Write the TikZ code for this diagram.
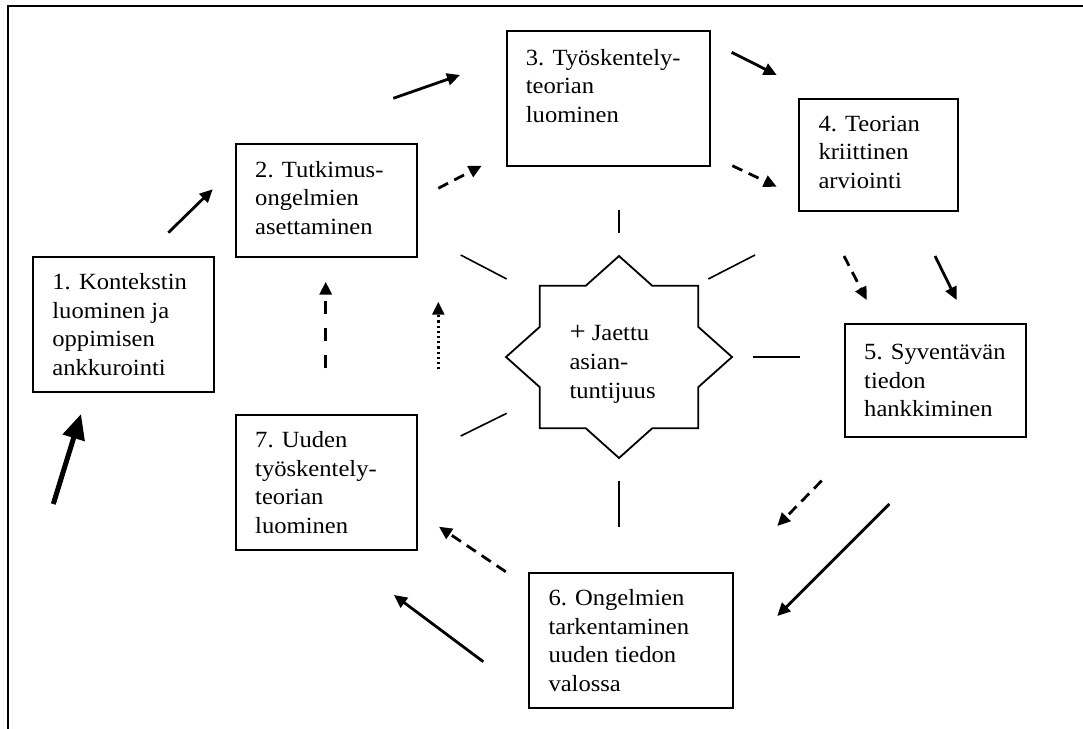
\documentclass[tikz,border=0pt]{standalone}
\usepackage{fontspec}
\setmainfont{Liberation Serif}[FakeStretch=1.06]
\usetikzlibrary{arrows.meta,calc}
\tikzset{
  box/.style={draw, line width=1.8pt, inner sep=0pt, anchor=north west},
  lbl/.style={anchor=north west, inner sep=0pt, align=left, font=\fontsize{23.2}{28.7}\selectfont},
  arr/.style={line width=2.8pt, -{Triangle[length=13pt,width=12pt]}},
  darr/.style={arr, dash pattern=on 11pt off 7pt},
  vdarr/.style={line width=3.2pt, dash pattern=on 13pt off 14pt, -{Triangle[length=13pt,width=12pt]}},
  dotarr/.style={line width=2.6pt, dash pattern=on 2.2pt off 3pt, -{Triangle[length=13pt,width=12pt]}},
  thickarr/.style={line width=5pt, -{Triangle[length=25pt,width=22pt]}},
  tick/.style={line width=1.6pt},
}
\begin{document}
\begin{tikzpicture}[x=1pt,y=-1pt]
\useasboundingbox (0,0) rectangle (1083,728);
% frame
\draw[line width=1.8pt] (8,760) -- (8,6) -- (1110,6);
% boxes
\node[box, minimum width=181pt, minimum height=135.3pt] (b1) at (31.7,255.7) {};
\node[box, minimum width=181pt, minimum height=112.4pt] (b2) at (235,143.3) {};
\node[box, minimum width=203.6pt, minimum height=135pt] (b3) at (505.7,30) {};
\node[box, minimum width=158.4pt, minimum height=112.3pt] (b4) at (798.3,97.7) {};
\node[box, minimum width=181.3pt, minimum height=112.7pt] (b5) at (844,323.3) {};
\node[box, minimum width=203.4pt, minimum height=135.6pt] (b6) at (528.3,571.7) {};
\node[box, minimum width=180.7pt, minimum height=135pt] (b7) at (235,414) {};
% texts
\node[lbl] (t1) at ([shift={(20.5,17.5)}]b1.north west) {1. Kontekstin\\luominen ja\\oppimisen\\ankkurointi};
\node[lbl] (t2) at ([shift={(20,17.5)}]b2.north west) {2. Tutkimus-\\ongelmien\\asettaminen};
\node[lbl] (t3) at ([shift={(20,19)}]b3.north west) {3. Työskentely-\\teorian\\luominen};
\node[lbl] (t4) at ([shift={(20,18)}]b4.north west) {4. Teorian\\kriittinen\\arviointi};
\node[lbl] (t5) at ([shift={(20,20.5)}]b5.north west) {5. Syventävän\\tiedon\\hankkiminen};
\node[lbl] (t6) at ([shift={(20,17.5)}]b6.north west) {6. Ongelmien\\tarkentaminen\\uuden tiedon\\valossa};
\node[lbl] (t7) at ([shift={(20,17)}]b7.north west) {7. Uuden\\työskentely-\\teorian\\luominen};
% star
\coordinate (sc) at (619,357);
\draw[line width=1.8pt, shift={(sc)}]
  (0,-101) -- (33.2,-71.3) -- (79.3,-71.3) -- (79.3,-30.1) -- (113,0)
  -- (79.3,30.1) -- (79.3,71.3) -- (33.2,71.3) -- (0,101)
  -- (-33.2,71.3) -- (-79.3,71.3) -- (-79.3,30.1) -- (-113,0)
  -- (-79.3,-30.1) -- (-79.3,-71.3) -- (-33.2,-71.3) -- cycle;
\node[lbl] (st) at (569.3,325.5) {{\fontsize{27}{28.7}\selectfont +} Jaettu\\asian-\\tuntijuus};
% ticks
\coordinate (k1a) at (619,210);   \coordinate (k1b) at (619,233.3);
\coordinate (k2a) at (460.7,255); \coordinate (k2b) at (506.7,279);
\coordinate (k3a) at (708.3,279); \coordinate (k3b) at (755,255);
\coordinate (k4a) at (460.7,436); \coordinate (k4b) at (506.7,413.3);
\coordinate (k5a) at (753.3,357); \coordinate (k5b) at (800,357);
\coordinate (k6a) at (619,481);   \coordinate (k6b) at (619,526.7);
\draw[tick] (k1a) -- (k1b);
\draw[tick] (k2a) -- (k2b);
\draw[tick] (k3a) -- (k3b);
\draw[tick] (k4a) -- (k4b);
\draw[tick] (k5a) -- (k5b);
\draw[tick] (k6a) -- (k6b);
% arrow end points
\coordinate (a0s) at (53.3,504);   \coordinate (a0e) at (81,414);
\coordinate (a1s) at (168.3,232.7); \coordinate (a1e) at (212.7,189.3);
\coordinate (a2s) at (393.3,98.3);  \coordinate (a2e) at (460,75);
\coordinate (a3s) at (438.3,188.3); \coordinate (a3e) at (481.7,165.7);
\coordinate (a4s) at (731.7,52.3);  \coordinate (a4e) at (776.7,75);
\coordinate (a5s) at (732.3,165.7); \coordinate (a5e) at (776.7,186.7);
\coordinate (a6s) at (844,256);     \coordinate (a6e) at (866.7,300);
\coordinate (a7s) at (935,256);     \coordinate (a7e) at (956.7,300);
\coordinate (a8s) at (821.7,480.7); \coordinate (a8e) at (777.3,526);
\coordinate (a9s) at (889.3,504);   \coordinate (a9e) at (777.3,616);
\coordinate (a10s) at (505.7,571.7); \coordinate (a10e) at (439,526.7);
\coordinate (a11s) at (483.3,661.7); \coordinate (a11e) at (394,595);
\coordinate (a12s) at (325.7,368.3); \coordinate (a12e) at (325.7,281.7);
\coordinate (a13s) at (438.3,369.3); \coordinate (a13e) at (438.3,301.7);
% arrows
\draw[thickarr] (a0s) -- (a0e);
\draw[arr] (a1s) -- (a1e);
\draw[arr] (a2s) -- (a2e);
\draw[darr] (a3s) -- (a3e);
\draw[arr] (a4s) -- (a4e);
\draw[darr] (a5s) -- (a5e);
\draw[darr] (a6s) -- (a6e);
\draw[arr] (a7s) -- (a7e);
\draw[darr] (a8s) -- (a8e);
\draw[arr] (a9s) -- (a9e);
\draw[darr] (a10s) -- (a10e);
\draw[arr] (a11s) -- (a11e);
\draw[vdarr] (a12s) -- (a12e);
\draw[dotarr] (a13s) -- (a13e);
\end{tikzpicture}
\end{document}
